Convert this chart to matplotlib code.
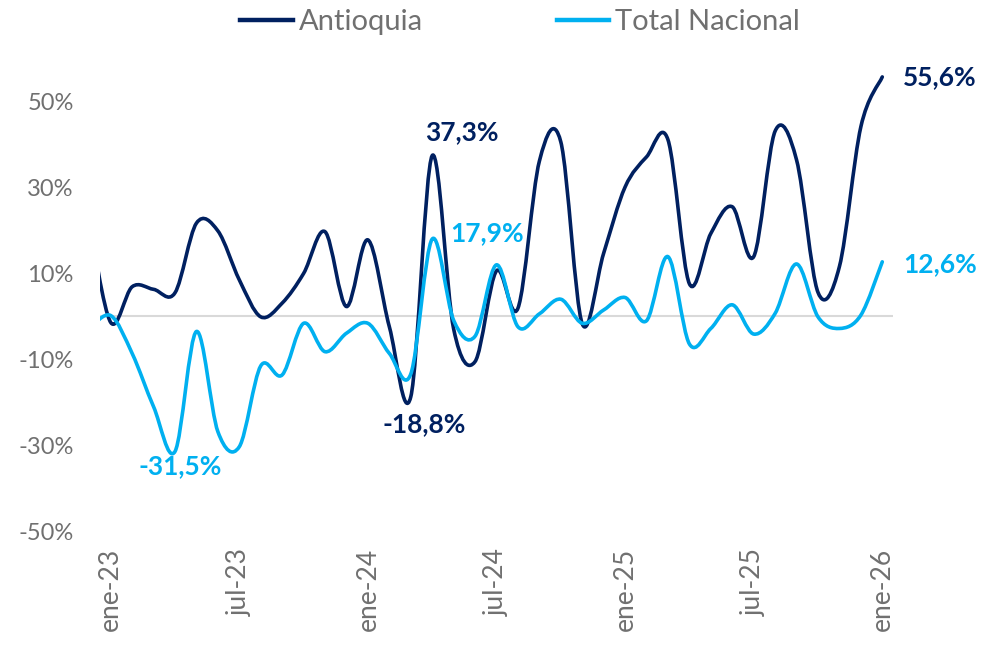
import matplotlib
matplotlib.use("Agg")
import matplotlib.pyplot as plt
import numpy as np
from matplotlib.path import Path
from matplotlib.patches import PathPatch
from matplotlib.lines import Line2D

plt.rcParams['font.family'] = ['Lato', 'DejaVu Sans']

# ---- data ----
months = ['dic-22',
          'ene-23', 'feb-23', 'mar-23', 'abr-23', 'may-23', 'jun-23', 'jul-23', 'ago-23', 'sep-23', 'oct-23', 'nov-23', 'dic-23',
          'ene-24', 'feb-24', 'mar-24', 'abr-24', 'may-24', 'jun-24', 'jul-24', 'ago-24', 'sep-24', 'oct-24', 'nov-24', 'dic-24',
          'ene-25', 'feb-25', 'mar-25', 'abr-25', 'may-25', 'jun-25', 'jul-25', 'ago-25', 'sep-25', 'oct-25', 'nov-25', 'dic-25',
          'ene-26']

antioquia = [22.0, -1.5, 6.8, 6.2, 5.4, 21.6, 19.8, 8.4, -0.2, 3.0, 9.9, 19.6, 2.2,
             17.7, -2.5, -18.8, 37.3, -3.0, -10.6, 10.5, 1.8, 36.0, 40.5, -1.8, 14.6,
             30.0, 37.0, 41.0, 7.5, 19.2, 25.4, 13.8, 43.0, 36.3, 5.5, 11.5, 44.0,
             55.6]

total_nacional = [-3.0, 0.1, -8.7, -21.1, -31.5, -3.6, -26.9, -30.4, -11.6, -13.7, -1.7, -8.3, -4.0,
                  -1.7, -8.7, -13.5, 17.9, -1.0, -4.7, 11.9, -2.5, 0.5, 3.9, -1.7, 1.4,
                  4.3, -1.1, 13.8, -6.5, -2.9, 2.6, -4.2, 0.6, 12.1, -0.2, -2.9, 0.2,
                  12.6]

series_names = ['Antioquia', 'Total Nacional']
colors = ['#002060', '#00B0F0']

y_ticks = [-50, -30, -10, 10, 30, 50]
x_tick_labels = ['ene-23', 'jul-23', 'ene-24', 'jul-24', 'ene-25', 'jul-25', 'ene-26']

# annotations: (series index, month label, text, offset px, ha)
annotations = [
    (0, 'ene-26', '55,6%', (21, 0), 'left'),
    (0, 'abr-24', '37,3%', (30, 23), 'center'),
    (1, 'abr-24', '17,9%', (55, 6), 'center'),
    (1, 'ene-26', '12,6%', (21, -2), 'left'),
    (0, 'mar-24', '-18,8%', (13, -27), 'center'),
    (1, 'abr-23', '-31,5%', (5, -15), 'center'),
]

# ---- figure ----
W, H = 990, 646
fig = plt.figure(figsize=(W / 100, H / 100), dpi=100)
ax = fig.add_axes([100 / W, 1 - 531 / H, 793 / W, (531 - 58) / H])

base = months.index('ene-23')
xs = np.arange(len(months)) - base


def smooth_path(x, y):
    pts = np.column_stack([x, y]).astype(float)
    n = len(pts)
    verts = [pts[0]]
    codes = [Path.MOVETO]
    for i in range(n - 1):
        p0 = pts[max(i - 1, 0)]
        p1 = pts[i]
        p2 = pts[i + 1]
        p3 = pts[min(i + 2, n - 1)]
        c1 = p1 + (p2 - p0) / 6.0
        c2 = p2 - (p3 - p1) / 6.0
        verts += [c1, c2, p2]
        codes += [Path.CURVE4] * 3
    return Path(verts, codes)


data = [antioquia, total_nacional]
for vals, col in zip(data, colors):
    patch = PathPatch(smooth_path(xs, vals), facecolor='none', edgecolor=col,
                      lw=2.6, capstyle='round', joinstyle='round', zorder=3)
    ax.add_patch(patch)

ax.axhline(0, color='#D9D9D9', lw=1.5, zorder=1)

ax.set_xlim(-0.5, xs[-1] + 0.5)
ax.set_ylim(-50, 60)

ax.set_yticks(y_ticks)
ax.set_yticklabels([f"{v}%" for v in y_ticks])
tick_pos = [months.index(m) - base for m in x_tick_labels]
ax.set_xticks(tick_pos)
ax.set_xticklabels(x_tick_labels, rotation=90)

for s in ax.spines.values():
    s.set_visible(False)
ax.tick_params(axis='both', length=0, colors='#707070')
ax.tick_params(axis='y', labelsize=17, pad=19)
ax.tick_params(axis='x', labelsize=19, pad=12)

for si, m, txt, off, ha in annotations:
    i = months.index(m)
    ax.annotate(txt, xy=(xs[i], data[si][i]), xytext=off, textcoords='offset pixels',
                ha=ha, va='center', fontsize=19, fontweight='bold', color=colors[si],
                annotation_clip=False, zorder=5)

handles = [Line2D([0], [0], color=c, lw=3.2) for c in colors]
fig.legend(handles, series_names, loc='center', bbox_to_anchor=(520 / W, 1 - 22 / H),
           ncol=2, frameon=False, fontsize=21, handlelength=1.8, handletextpad=0.2,
           columnspacing=4.6, labelcolor='#707070')

fig.savefig('out.png', dpi=100)
